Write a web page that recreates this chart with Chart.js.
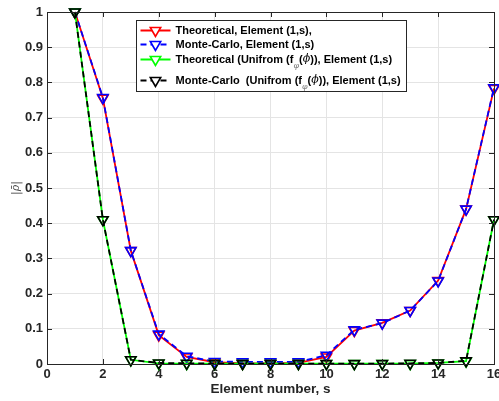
<!DOCTYPE html>
<html>
<head>
<meta charset="utf-8">
<script src="https://cdn.jsdelivr.net/npm/chart.js@4"></script>
<style>
  html, body { margin: 0; padding: 0; background: #fff; }
</style>
</head>
<body>
<canvas id="c" width="499" height="401"></canvas>
<script>
// Element index s along the array
const elements = [1, 2, 3, 4, 5, 6, 7, 8, 9, 10, 11, 12, 13, 14, 15, 16];

// |rho| per element
const theoretical   = [1, 0.755, 0.322, 0.082, 0.020, 0.005, 0.002, 0.002, 0.003, 0.020, 0.095, 0.117, 0.152, 0.237, 0.440, 0.783];
const monteCarlo    = [1, 0.757, 0.322, 0.085, 0.022, 0.007, 0.006, 0.006, 0.006, 0.025, 0.097, 0.116, 0.152, 0.236, 0.440, 0.785];
const theoUniform   = [1, 0.410, 0.012, 0.002, 0.001, 0.001, 0.001, 0.001, 0.001, 0.001, 0.001, 0.001, 0.001, 0.003, 0.008, 0.410];
const mcUniform     = [1, 0.410, 0.012, 0.003, 0.002, 0.001, 0.001, 0.001, 0.001, 0.001, 0.001, 0.001, 0.002, 0.003, 0.009, 0.410];

// Legend entries: _{..} marks a subscript, $..$ marks an italic math symbol
const seriesNames = [
  'Theoretical, Element (1,s),',
  'Monte-Carlo, Element (1,s)',
  'Theoretical (Unifrom (f_{φ}($ϕ$)), Element (1,s)',
  'Monte-Carlo  (Unifrom (f_{φ}($ϕ$)), Element (1,s)'
];

const xTicks = [0, 2, 4, 6, 8, 10, 12, 14, 16];

const AXIS = '#262626';
const FONT = '"Liberation Sans", Arial, Helvetica, sans-serif';

function toXY(ys) { return ys.map((y, i) => ({ x: elements[i], y })); }

function series(label, ys, color, dash, order) {
  return {
    label, data: toXY(ys), order,
    borderColor: color, borderWidth: 1.8, borderDash: dash,
    pointStyle: 'triangle', pointRotation: 180, pointRadius: 6,
    pointBorderColor: color, pointBorderWidth: 1.6,
    pointBackgroundColor: 'rgba(255,255,255,0)',
    tension: 0, clip: false, fill: false
  };
}

// Frame and inward tick marks drawn over the plot
const framePlugin = {
  id: 'frame',
  afterDatasetsDraw(chart) {
    const { ctx, chartArea: a, scales: { x, y } } = chart;
    ctx.save();
    ctx.strokeStyle = AXIS;
    ctx.lineWidth = 1;
    const L = 5;
    ctx.beginPath();
    xTicks.forEach(v => {
      const px = Math.round(x.getPixelForValue(v)) + 0.5;
      ctx.moveTo(px, a.bottom); ctx.lineTo(px, a.bottom - L);
      ctx.moveTo(px, a.top); ctx.lineTo(px, a.top + L);
    });
    for (let i = 0; i <= 10; i++) {
      const py = Math.round(y.getPixelForValue(i / 10)) + 0.5;
      ctx.moveTo(a.left, py); ctx.lineTo(a.left + L, py);
      ctx.moveTo(a.right, py); ctx.lineTo(a.right - L, py);
    }
    ctx.stroke();
    ctx.strokeRect(Math.round(a.left) + 0.5, Math.round(a.top) + 0.5,
                   Math.round(a.right - a.left), Math.round(a.bottom - a.top));
    ctx.restore();
  }
};

function parseLabel(str) {
  return str.split(/(_\{[^}]*\}|\$[^$]*\$)/).filter(s => s.length).map(s => {
    if (s.startsWith('_{')) return { t: s.slice(2, -1), kind: 'sub' };
    if (s.startsWith('$')) return { t: s.slice(1, -1), kind: 'ital' };
    return { t: s, kind: 'text' };
  });
}

// Boxed legend inside the plot, upper middle
const legendPlugin = {
  id: 'boxLegend',
  afterDraw(chart) {
    const { ctx } = chart;
    const box = { x: 136.5, y: 20.5, w: 270, h: 71 };
    const rows = [10, 24, 39, 60];
    ctx.save();
    ctx.fillStyle = '#fff';
    ctx.fillRect(box.x, box.y, box.w, box.h);
    ctx.strokeStyle = AXIS;
    ctx.lineWidth = 1;
    ctx.strokeRect(box.x, box.y, box.w, box.h);

    chart.data.datasets.forEach((ds, i) => {
      const cy = box.y + rows[i];
      const x0 = box.x + 4, x1 = box.x + 34, mx = (x0 + x1) / 2;
      ctx.strokeStyle = ds.borderColor;
      ctx.lineWidth = 2;
      ctx.setLineDash(ds.borderDash || []);
      ctx.beginPath(); ctx.moveTo(x0, cy); ctx.lineTo(x1, cy); ctx.stroke();
      ctx.setLineDash([]);
      ctx.lineWidth = 1.6;
      ctx.beginPath();
      const r = 6;
      ctx.moveTo(mx, cy + r);
      ctx.lineTo(mx - r * Math.cos(Math.PI / 6), cy - r / 2);
      ctx.lineTo(mx + r * Math.cos(Math.PI / 6), cy - r / 2);
      ctx.closePath();
      ctx.fillStyle = '#fff'; ctx.fill();
      ctx.stroke();

      let tx = box.x + 39;
      ctx.textBaseline = 'middle';
      ctx.textAlign = 'left';
      parseLabel(ds.label).forEach(p => {
        if (p.kind === 'sub') {
          ctx.font = 'italic 8px "DejaVu Serif", serif';
          ctx.fillStyle = '#777';
          ctx.fillText(p.t, tx, cy + 6);
        } else if (p.kind === 'ital') {
          ctx.font = 'italic 11px "DejaVu Serif", serif';
          ctx.fillStyle = '#000';
          ctx.fillText(p.t, tx, cy);
        } else {
          ctx.font = 'bold 11px ' + FONT;
          ctx.fillStyle = '#000';
          ctx.fillText(p.t, tx, cy);
        }
        tx += ctx.measureText(p.t).width;
      });
    });
    ctx.restore();
  }
};

new Chart(document.getElementById('c'), {
  type: 'line',
  data: {
    datasets: [
      series(seriesNames[0], theoretical, '#ff0000', [], 4),
      series(seriesNames[1], monteCarlo, '#0000ff', [6, 4], 3),
      series(seriesNames[2], theoUniform, '#00ff00', [], 2),
      series(seriesNames[3], mcUniform, '#000000', [6, 4], 1)
    ]
  },
  options: {
    responsive: false,
    animation: false,
    layout: { autoPadding: false, padding: { top: 12, right: 5, left: 0, bottom: 0 } },
    plugins: { legend: { display: false }, tooltip: { enabled: false } },
    scales: {
      x: {
        type: 'linear', min: 0, max: 16,
        afterBuildTicks(s) { s.ticks = xTicks.map(v => ({ value: v })); },
        afterFit(s) { s.height = 37; s.paddingLeft = 0; s.paddingRight = 0; },
        ticks: { color: AXIS, padding: 3, font: { family: FONT, size: 13, weight: 'bold' }, maxRotation: 0, autoSkip: false },
        grid: { color: '#e4e4e4', drawTicks: false },
        border: { display: false },
        title: { display: true, text: 'Element number, s', color: AXIS,
                 font: { family: FONT, size: 13.5, weight: 'bold' }, padding: { top: 2, bottom: 4 } }
      },
      y: {
        min: 0, max: 1,
        ticks: { stepSize: 0.1, color: AXIS, padding: 4,
                 font: { family: FONT, size: 13, weight: 'bold' },
                 callback: v => String(Number(v.toFixed(1))) },
        afterFit(s) { s.width = 47; s.paddingTop = 0; s.paddingBottom = 0; },
        grid: { color: '#e4e4e4', drawTicks: false },
        border: { display: false },
        title: { display: true, text: '|ρ̄|', color: '#444',
                 font: { family: '"DejaVu Serif", serif', size: 11, style: 'italic' }, padding: { top: 10, bottom: 0 } }
      }
    }
  },
  plugins: [framePlugin, legendPlugin]
});
</script>
</body>
</html>
